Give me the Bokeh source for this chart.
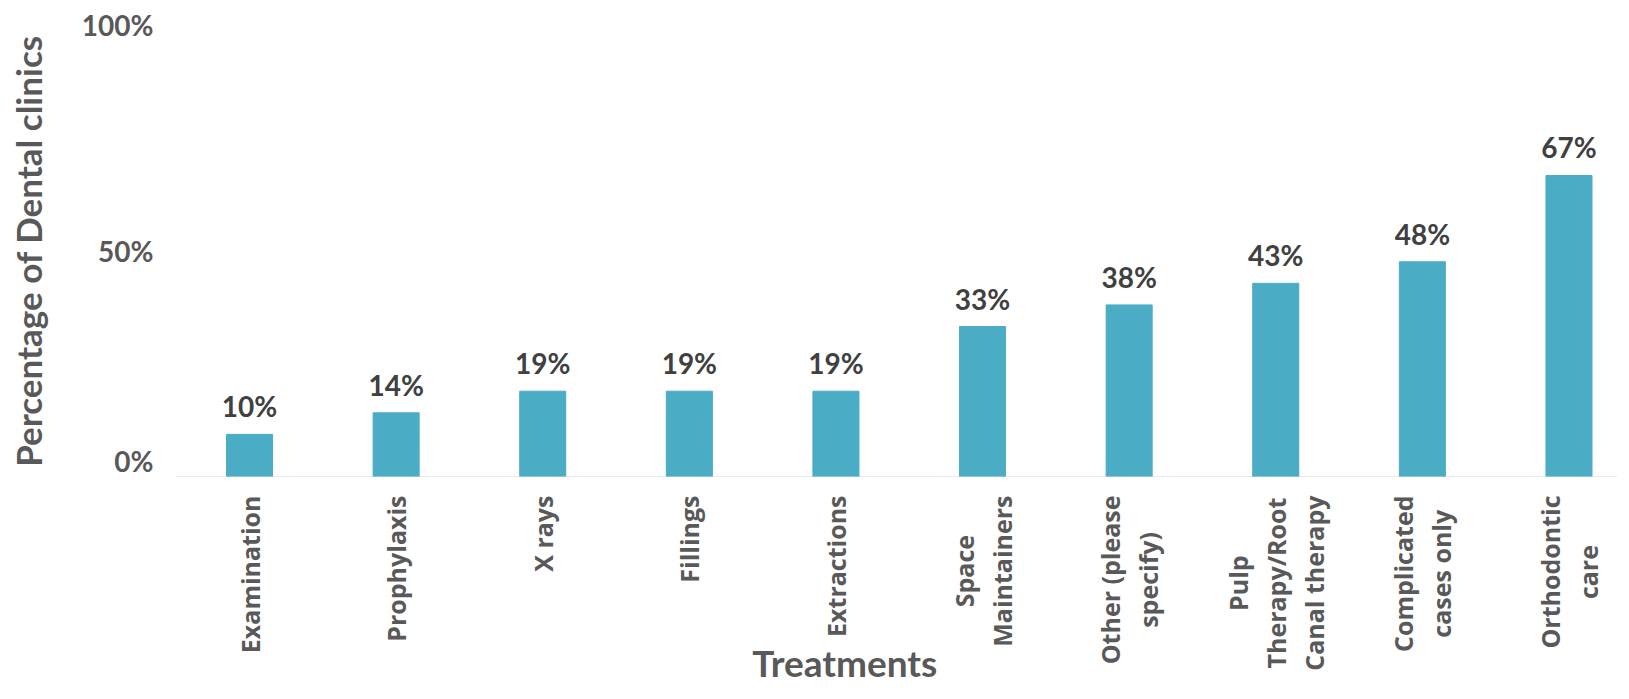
import math
from bokeh.plotting import figure
from bokeh.layouts import column
from bokeh.models import Range1d, FixedTicker, NumeralTickFormatter, ColumnDataSource
from bokeh.core.properties import value
from bokeh.embed import file_html
from bokeh.resources import INLINE

categories = [
    "Examination",
    "Prophylaxis",
    "X rays",
    "Fillings",
    "Extractions",
    "Space\nMaintainers",
    "Other (please\nspecify)",
    "Pulp\nTherapy/Root\nCanal therapy",
    "Complicated\ncases only",
    "Orthodontic\ncare",
]
shares = [0.0952, 0.1429, 0.1905, 0.1905, 0.1905, 0.3333, 0.3810, 0.4286, 0.4762, 0.6667]
y_ticks = [0, 0.5, 1.0]
x_title = "Treatments"
y_title = "Percentage of Dental clinics"

positions = list(range(len(categories)))
labels = [f"{round(v * 100)}%" for v in shares]
src = ColumnDataSource(dict(x=positions, share=shares, label=labels))
cat_src = ColumnDataSource(dict(x=positions, y=[0] * len(positions), cat=categories))

GREY = "#595959"
DARK = "#404040"
BAR = "#4BACC6"

x_range = Range1d(-0.505, 9.331)
FRAME_W = 1442
LEFT = 175

# ---------------- main bar chart ----------------
p = figure(
    frame_width=FRAME_W, frame_height=453,
    x_range=x_range, y_range=Range1d(0, 1.0),
    output_backend="svg", toolbar_location=None,
    min_border_left=LEFT, min_border_right=0, min_border_top=24, min_border_bottom=0,
)
p.outline_line_color = None
p.grid.visible = False
p.background_fill_color = "white"
p.border_fill_color = "white"

p.vbar(x="x", top="share", width=0.314, source=src, fill_color=BAR, line_color=BAR)
p.text(x="x", y="share", text="label", source=src,
       text_align="center", text_baseline="alphabetic", y_offset=-28,
       text_font=value("Lato"), text_font_style="bold", text_font_size="28px",
       text_color=DARK)

xa = p.xaxis[0]
xa.ticker = FixedTicker(ticks=[])
xa.major_label_standoff = 0
xa.axis_label_standoff = 0
xa.major_tick_out = 0
xa.major_tick_in = 0
xa.minor_tick_out = 0
xa.minor_tick_in = 0
xa.axis_line_color = "#D9D9D9"
xa.axis_line_width = 2

ya = p.yaxis[0]
ya.ticker = FixedTicker(ticks=y_ticks)
ya.formatter = NumeralTickFormatter(format="0%")
ya.axis_line_color = None
ya.major_tick_out = 0
ya.major_tick_in = 0
ya.minor_tick_out = 0
ya.minor_tick_in = 0
ya.major_label_standoff = 22
ya.major_label_text_font = "Lato"
ya.major_label_text_font_style = "bold"
ya.major_label_text_font_size = "28px"
ya.major_label_text_color = GREY
ya.axis_label = y_title
ya.axis_label_text_font = "Lato"
ya.axis_label_text_font_style = "bold"
ya.axis_label_text_font_size = "35px"
ya.axis_label_text_color = GREY
ya.axis_label_standoff = 30

# ---------------- category labels + x title strip ----------------
q = figure(
    frame_width=FRAME_W, frame_height=210,
    x_range=x_range, y_range=Range1d(-1, 0),
    x_axis_location=None, y_axis_location=None,
    output_backend="svg", toolbar_location=None,
    min_border_left=LEFT, min_border_right=0, min_border_top=0, min_border_bottom=0,
)
q.outline_line_color = None
q.grid.visible = False
q.background_fill_color = "white"
q.border_fill_color = "white"

q.text(x="x", y="y", text="cat", source=cat_src,
       angle=math.pi / 2, anchor="center_right", text_align="center",
       y_offset=18, text_line_height=1.12,
       text_font=value("Open Sans"), text_font_style="bold", text_font_size="25px",
       text_color=GREY)

q.text(x=[4.06], y=[-1], text=[x_title],
       text_align="center", text_baseline="bottom", y_offset=-3,
       text_font=value("Lato"), text_font_style="bold", text_font_size="37px",
       text_color=GREY)

layout = column(p, q, spacing=0)
open("out.html", "w").write(file_html(layout, INLINE))
